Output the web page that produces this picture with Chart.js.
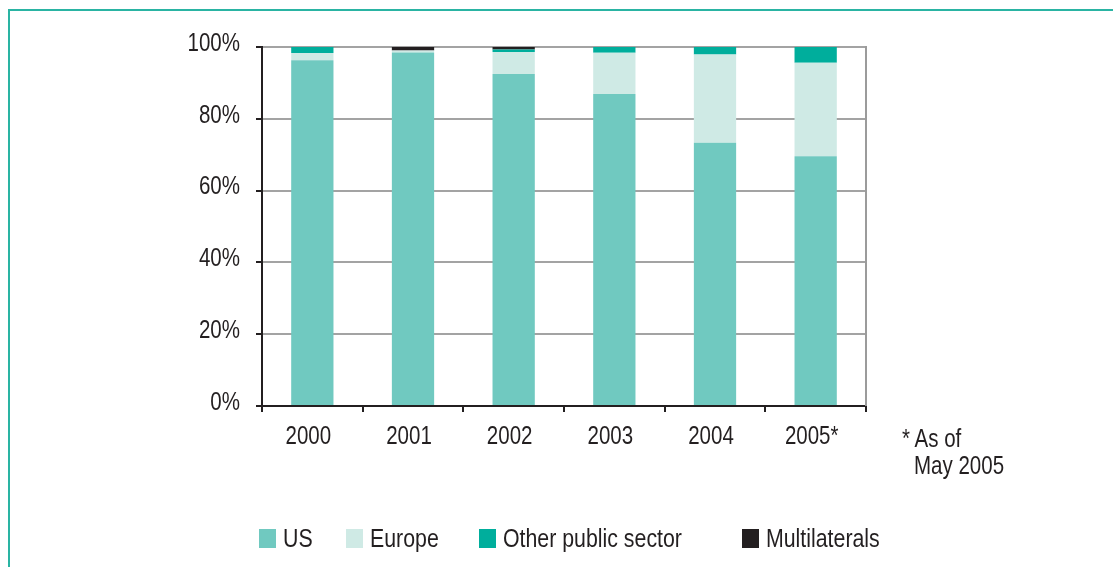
<!DOCTYPE html>
<html>
<head>
<meta charset="utf-8">
<script src="https://cdn.jsdelivr.net/npm/chart.js@4/dist/chart.umd.min.js"></script>
<style>
  html, body { margin: 0; padding: 0; background: #fff; overflow: hidden; }
  #wrap { position: relative; width: 1113px; height: 567px; }
  #frame { position: absolute; left: 8px; top: 9px; width: 1200px; height: 700px;
           border-left: 2px solid #2ab4a3; border-top: 2px solid #2ab4a3; }
  canvas { position: absolute; left: 0; top: 0; }
  .txt { position: absolute; font-family: "Liberation Sans", Arial, sans-serif;
         font-size: 25px; color: #231f20; line-height: 1; white-space: nowrap;
         transform: scaleX(0.82); transform-origin: 0 0; }
  .lg-box { position: absolute; width: 17px; height: 19px; }
</style>
</head>
<body>
<div id="wrap">
  <div id="frame"></div>
  <canvas id="shareChart" width="1113" height="567"></canvas>
  <div class="txt" style="left:902px; top:426px;">* As of</div>
  <div class="txt" style="left:914px; top:453px;">May 2005</div>
  <div id="legend"></div>
</div>
<script>
const years = ['2000', '2001', '2002', '2003', '2004', '2005*'];
const usShare = [96.3, 98.5, 92.5, 86.9, 73.3, 69.6];
const europeShare = [2.0, 0.5, 6.1, 11.5, 24.6, 26.0];
const otherPublicShare = [1.7, 0, 0.7, 1.6, 2.1, 4.4];
const multilateralShare = [0, 1.0, 0.7, 0, 0, 0];
const percentTicks = [0, 20, 40, 60, 80, 100];

const seriesNames = ['US', 'Europe', 'Other public sector', 'Multilaterals'];
const seriesColors = ['#70c9c0', '#cfeae5', '#00ae9c', '#231f20'];

const INK = '#231f20';
const LABEL_FONT = '25px "Liberation Sans", Arial, sans-serif';
const NARROW = 0.82;

function narrowText(ctx, text, x, y, align) {
  ctx.save();
  ctx.translate(x, y);
  ctx.scale(NARROW, 1);
  ctx.textAlign = align;
  ctx.fillText(text, 0, 0);
  ctx.restore();
}

// condensed axis labels plus the grey line closing the plot on the right
const axisDecor = {
  id: 'axisDecor',
  afterDraw(chart) {
    const ctx = chart.ctx, a = chart.chartArea;
    const xs = chart.scales.x, ys = chart.scales.y;
    ctx.save();
    ctx.strokeStyle = '#9b9b9b';
    ctx.lineWidth = 2;
    ctx.beginPath();
    ctx.moveTo(a.right, a.top - 1);
    ctx.lineTo(a.right, a.bottom);
    ctx.stroke();

    ctx.fillStyle = INK;
    ctx.font = LABEL_FONT;
    ctx.textBaseline = 'middle';
    ys.ticks.forEach(t => {
      narrowText(ctx, t.value + '%', ys.right - 22, ys.getPixelForValue(t.value) - 3, 'right');
    });
    xs.ticks.forEach((t, i) => {
      narrowText(ctx, years[i], xs.getPixelForTick(i) - 4, a.bottom + 31, 'center');
    });
    ctx.restore();
  }
};

const seriesData = [usShare, europeShare, otherPublicShare, multilateralShare];

const chart = new Chart(document.getElementById('shareChart').getContext('2d'), {
  type: 'bar',
  data: {
    labels: years,
    datasets: seriesNames.map((name, i) => ({
      label: name,
      data: seriesData[i],
      backgroundColor: seriesColors[i],
      borderWidth: 0,
      barPercentage: 0.42,
      categoryPercentage: 1.0
    }))
  },
  options: {
    responsive: false,
    animation: false,
    layout: { padding: { left: 0, top: 47, right: 247, bottom: 101 } },
    plugins: { legend: { display: false }, tooltip: { enabled: false } },
    scales: {
      x: {
        stacked: true,
        afterFit: s => { s.height = 60; },
        grid: { offset: true, drawOnChartArea: false, drawTicks: true, tickLength: 6, tickColor: INK, lineWidth: 2 },
        border: { color: INK, width: 2 },
        ticks: { display: false }
      },
      y: {
        stacked: true,
        min: 0,
        max: 100,
        afterFit: s => { s.width = 262; },
        afterBuildTicks: s => { s.ticks = percentTicks.map(v => ({ value: v })); },
        grid: { color: '#a3a3a3', lineWidth: 2, tickLength: 6, tickColor: INK },
        border: { color: INK, width: 2 },
        ticks: { display: false }
      }
    }
  },
  plugins: [axisDecor]
});

// legend along the bottom
const legendLeft = [259, 346, 479, 742];
const legend = document.getElementById('legend');
seriesNames.forEach((name, i) => {
  const box = document.createElement('div');
  box.className = 'lg-box';
  box.style.left = legendLeft[i] + 'px';
  box.style.top = '529px';
  box.style.background = seriesColors[i];
  legend.appendChild(box);
  const t = document.createElement('div');
  t.className = 'txt';
  t.style.left = (legendLeft[i] + 24) + 'px';
  t.style.top = '525px';
  t.style.fontSize = '26px';
  t.textContent = name;
  legend.appendChild(t);
});
</script>
</body>
</html>
